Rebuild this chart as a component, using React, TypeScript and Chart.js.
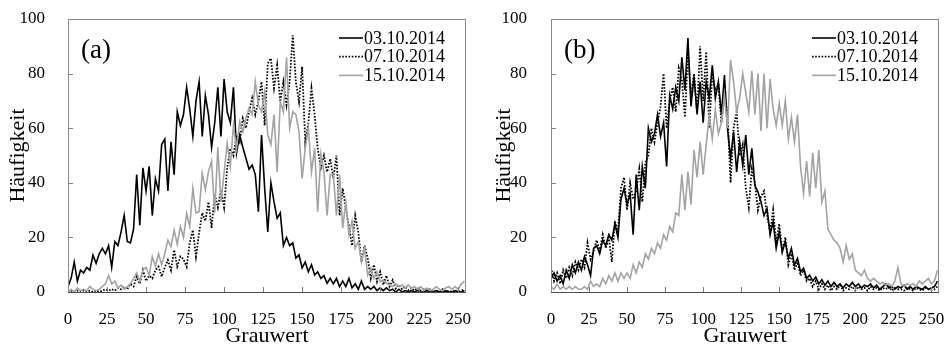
import { useEffect, useRef } from 'react';
import { Chart, registerables } from 'chart.js';

Chart.register(...registerables);

const GRAY_LEVELS = [
  0, 2, 4, 6, 8, 10, 12, 14, 16, 18, 20, 22, 24, 26, 28, 30, 32, 34, 36, 38,
  40, 42, 44, 46, 48, 50, 52, 54, 56, 58, 60, 62, 64, 66, 68, 70, 72, 74, 76, 78,
  80, 82, 84, 86, 88, 90, 92, 94, 96, 98, 100, 102, 104, 106, 108, 110, 112, 114, 116, 118,
  120, 122, 124, 126, 128, 130, 132, 134, 136, 138, 140, 142, 144, 146, 148, 150, 152, 154, 156, 158,
  160, 162, 164, 166, 168, 170, 172, 174, 176, 178, 180, 182, 184, 186, 188, 190, 192, 194, 196, 198,
  200, 202, 204, 206, 208, 210, 212, 214, 216, 218, 220, 222, 224, 226, 228, 230, 232, 234, 236, 238,
  240, 242, 244, 246, 248, 250, 252, 254,
];

const X_TICKS = [0, 25, 50, 75, 100, 125, 150, 175, 200, 225, 250];
const Y_TICKS = [0, 20, 40, 60, 80, 100];
const SERIES_LABELS = ['03.10.2014', '07.10.2014', '15.10.2014'];
const PANEL_LABELS = ['(a)', '(b)'];
const X_TITLE = 'Grauwert';
const Y_TITLE = 'Häufigkeit';

// Panel (a)
const A_0310 = [
  2, 5, 11, 4, 8, 7, 9, 8, 13.5, 10.5,
  14, 16, 14, 17, 9, 18.5, 17, 22, 28, 18.5,
  18, 23, 43, 24.5, 45.5, 37, 46, 28, 41.5, 37,
  54, 56, 37, 55, 43, 66, 61, 65, 75, 67,
  57, 70, 77, 57, 72, 65, 53, 62, 75, 57,
  78, 66, 62, 75, 51, 57.5, 53, 49, 45, 46.5,
  43, 29.4, 57.5, 38, 22, 40, 33, 27, 29, 17,
  20, 17, 18, 12.4, 13.6, 8.8, 11, 7.4, 10, 6.2,
  7.4, 5, 6, 3.2, 5, 3, 5, 2, 4, 2,
  5, 1.5, 3, 1, 4, 1, 2, 1, 2, 0.5,
  1.5, 0.5, 1.5, 0.5, 1, 0, 1, 0, 0.5, 0,
  0.5, 0, 0.5, 0, 0, 0.5, 0, 0, 0.5, 0,
  0, 0.5, 0, 0, 0.5, 0, 0, 0.5,
];

const A_0710 = [
  0, 0.5, 0, 0.5, 0, 0.5, 0, 0.5, 0, 0.5,
  0, 0.5, 1, 0.5, 1, 0.5, 1.5, 1, 2, 1,
  3, 2, 5.6, 3, 8, 4, 6, 5, 8, 9.3,
  5.6, 9, 11.7, 8, 15.4, 9.3, 13, 12, 9.3, 18,
  22.7, 13, 21.6, 29, 26, 33, 23.4, 36, 31, 37.4,
  31, 45.4, 52.6, 50, 57.5, 55, 63.6, 60, 66, 71,
  65, 70, 77, 61, 83.7, 85.6, 74.7, 83, 69.7, 77,
  68.5, 77, 94, 77, 69.7, 82.5, 55, 62, 74.6, 65,
  52.6, 45.4, 50, 44, 48.8, 41.7, 50, 28, 38, 30.8,
  24, 17, 28, 22, 11, 17, 12.4, 5, 10, 3.8,
  7.4, 2.6, 6, 2, 4.4, 1.3, 2.6, 1, 2, 0.7,
  1.5, 0.5, 1.5, 0.5, 1, 0.5, 1, 0, 0.5, 0,
  1, 0, 0.5, 0, 0.5, 0, 0.5, 1,
];

const A_1510 = [
  0, 1, 0, 1.5, 0.5, 1, 0.5, 2, 1, 0.5,
  1, 2, 3, 6, 3, 4, 1.5, 2.5, 1, 2,
  3, 5, 7, 4, 8, 9, 6, 13, 9.5, 14,
  10, 14, 19, 16.6, 22.7, 17.5, 24, 20, 28.8, 24,
  38, 29, 29.4, 43.5, 37.5, 44, 48, 29, 53, 33,
  43.6, 54.5, 46, 61, 52.6, 62.4, 58.7, 63.6, 67.3, 65,
  77, 68.5, 66, 73.4, 57.5, 54, 65, 44, 69.7, 66,
  86, 60, 66, 65, 58.7, 41.6, 52.6, 60, 44, 52.6,
  29.4, 50.6, 44, 28, 43, 43, 28, 43, 23.4, 33,
  21, 26, 16, 18.5, 11, 16, 6.2, 8.7, 5, 7.4,
  3.8, 4.4, 3.2, 2.6, 2, 3, 2, 2.6, 1.5, 2.6,
  1.3, 2, 1, 2, 0.7, 1.5, 0.5, 1, 2, 1,
  0.5, 1.5, 2, 1, 2, 1, 3, 4,
];

// Panel (b)
const B_0310 = [
  5, 7, 4, 6, 3, 8, 5, 10, 7, 11,
  8, 13, 10, 6, 16, 17, 14, 19, 17, 21,
  19, 25, 20, 34, 38, 32, 36, 21, 43, 30,
  46, 38, 60, 55, 58, 65, 57, 62, 46, 72,
  67, 75, 70, 86, 74, 93, 68, 79, 65, 77,
  62, 77, 71, 83, 71, 77, 65, 79.5, 60, 49,
  58.7, 44, 55, 46.5, 57.5, 43, 52.6, 39, 36.7, 33,
  28, 30.6, 21, 25.8, 16, 22, 14.8, 18.4, 12.3, 16,
  9.9, 12.3, 7.4, 8.7, 5, 6.2, 4, 5.5, 3, 4.5,
  2.5, 4, 2, 3.5, 2, 3, 1.5, 3, 2, 3.5,
  2, 3, 1.5, 2.5, 2, 3, 1.5, 2.5, 1, 2,
  3, 1.5, 2, 1, 2, 1.5, 2.5, 1, 2, 1,
  2, 1.5, 1, 2, 1, 1.5, 2, 4,
];

const B_0710 = [
  9, 4, 7, 3, 8, 5, 9, 6, 11, 8,
  12, 9, 18, 12, 15, 19, 15, 21, 16, 20,
  11, 26, 22, 38, 42, 30, 40, 34, 37, 45,
  33, 47, 50, 60, 55, 62, 68, 80, 60, 70,
  75, 66, 82, 78, 64, 88, 72, 80, 66, 90,
  70, 88, 60, 80, 74, 76, 62, 72, 66, 40,
  60, 66, 50, 54, 38, 31, 45, 40, 30, 35,
  37, 28, 22, 30, 18, 25, 15, 20, 10, 14,
  8, 11, 6, 8, 4, 5, 2, 4, 1, 3,
  1, 2.5, 0.5, 2, 1, 2.5, 0.5, 1.5, 1, 2,
  0.5, 2, 1, 1.5, 0.5, 2, 1, 1.5, 0.5, 1.5,
  1, 2, 0.5, 1.5, 1, 1, 0.5, 1.5, 1, 0.5,
  1.5, 1, 0.5, 1.5, 1, 0.5, 1, 2,
];

const B_1510 = [
  2, 1, 3, 1, 2, 1, 2, 1, 2, 1,
  1, 2, 1, 4, 2, 3, 2, 5, 3, 6,
  4, 7, 4, 7, 5, 7, 5, 10, 7, 11,
  9, 14, 12, 16, 14, 18, 16, 21, 19, 24,
  22, 29, 28, 43, 30, 44, 32, 52, 42, 55,
  43, 54, 65, 56, 67, 58, 62, 72, 60, 85,
  77, 66, 71, 80, 73, 66, 81, 65, 80, 59,
  80, 60, 78, 67, 61, 69, 61, 70, 56, 64,
  55, 65, 46, 36, 48, 35, 51, 38, 52, 33,
  37, 23, 21, 19, 18, 16, 11, 17, 12, 14,
  8, 7, 6, 8, 5, 4, 5, 4, 3, 3.5,
  2.5, 3, 2, 4, 9, 3, 2, 3, 2.5, 3,
  2, 4, 3, 4, 5, 3, 4, 8,
];

const FONT = '"Liberation Serif", "Times New Roman", Times, serif';

type PanelSpec = {
  label: string;
  series: number[][];
  yWidth: number;
  yTitlePad: number;
  yTickPad: number;
};

const STYLES = [
  { color: '#000000', width: 1.6, dash: [] as number[], order: 3 },
  { color: '#000000', width: 1.8, dash: [1.6, 1.6], order: 2 },
  { color: '#a3a3a3', width: 1.6, dash: [] as number[], order: 1 },
];

const decorPlugin = {
  id: 'decor',
  afterDraw(chart: any, _args: any, opts: any) {
    const ctx = chart.ctx as CanvasRenderingContext2D;
    const { left, right, top, bottom } = chart.chartArea;
    const xs = chart.scales.x;
    const ys = chart.scales.y;
    ctx.save();
    // inward ticks
    ctx.strokeStyle = '#808080';
    ctx.lineWidth = 1;
    ctx.beginPath();
    X_TICKS.forEach((v) => {
      const px = Math.round(xs.getPixelForValue(v)) + 0.5;
      ctx.moveTo(px, bottom);
      ctx.lineTo(px, bottom - 5);
    });
    Y_TICKS.forEach((v) => {
      const py = Math.round(ys.getPixelForValue(v)) + 0.5;
      ctx.moveTo(left, py);
      ctx.lineTo(left + 5, py);
    });
    ctx.stroke();
    // frame
    ctx.strokeStyle = '#8a8a8a';
    ctx.strokeRect(Math.round(left) + 0.5, Math.round(top) + 0.5, Math.round(right - left) - 1, Math.round(bottom - top));
    ctx.strokeStyle = '#4a4a4a';
    ctx.beginPath();
    ctx.moveTo(left, Math.round(bottom) + 0.5);
    ctx.lineTo(right, Math.round(bottom) + 0.5);
    ctx.stroke();
    // legend
    ctx.font = `18px ${FONT}`;
    ctx.textBaseline = 'middle';
    ctx.textAlign = 'left';
    SERIES_LABELS.forEach((txt, i) => {
      const w = ctx.measureText(txt).width;
      const tx = right - 21 - w;
      const ty = top + 19 + i * 18.7;
      const st = STYLES[i];
      ctx.strokeStyle = st.color;
      ctx.lineWidth = st.width;
      ctx.setLineDash(st.dash);
      ctx.beginPath();
      ctx.moveTo(tx - 25, ty);
      ctx.lineTo(tx - 1, ty);
      ctx.stroke();
      ctx.setLineDash([]);
      ctx.fillStyle = '#000';
      ctx.fillText(txt, tx, ty + 1);
    });
    // panel label
    ctx.font = `27px ${FONT}`;
    ctx.textBaseline = 'alphabetic';
    ctx.fillStyle = '#000';
    ctx.fillText(opts.label, left + 13, top + 39);
    ctx.restore();
  },
};

function Panel({ spec, width, height }: { spec: PanelSpec; width: number; height: number }) {
  const ref = useRef<HTMLCanvasElement | null>(null);
  useEffect(() => {
    if (!ref.current) return;
    const chart = new Chart(ref.current, {
      type: 'line',
      data: {
        labels: GRAY_LEVELS,
        datasets: spec.series.map((d, i) => ({
          label: SERIES_LABELS[i],
          data: d,
          borderColor: STYLES[i].color,
          borderWidth: STYLES[i].width,
          borderDash: STYLES[i].dash,
          pointRadius: 0,
          tension: 0,
          fill: false,
          order: STYLES[i].order,
        })),
      },
      options: {
        responsive: false,
        animation: false,
        devicePixelRatio: 1,
        layout: { padding: { left: 0, top: 19, right: 6, bottom: 0 } },
        plugins: {
          legend: { display: false },
          tooltip: { enabled: false },
          decor: { label: spec.label },
        } as any,
        scales: {
          x: {
            type: 'linear',
            min: 0,
            max: 255,
            grid: { display: false },
            border: { display: false },
            afterBuildTicks: (s: any) => {
              s.ticks = X_TICKS.map((v) => ({ value: v }));
            },
            afterFit: (s: any) => {
              s.height = 55;
              s.paddingLeft = 0;
              s.paddingRight = 0;
            },
            ticks: {
              autoSkip: false,
              maxRotation: 0,
              padding: 9,
              color: '#000',
              font: { family: FONT, size: 17 },
            },
            title: {
              display: true,
              text: X_TITLE,
              color: '#000',
              font: { family: FONT, size: 22, lineHeight: 1 },
              padding: { top: 0, bottom: 0 },
            },
          },
          y: {
            type: 'linear',
            min: 0,
            max: 100,
            grid: { display: false },
            border: { display: false },
            afterBuildTicks: (s: any) => {
              s.ticks = Y_TICKS.map((v) => ({ value: v }));
            },
            afterFit: (s: any) => {
              s.width = spec.yWidth;
              s.paddingTop = 0;
              s.paddingBottom = 0;
            },
            ticks: {
              padding: spec.yTickPad,
              color: '#000',
              font: { family: FONT, size: 17 },
            },
            title: {
              display: true,
              text: Y_TITLE,
              color: '#000',
              font: { family: FONT, size: 22, lineHeight: 1 },
              padding: { top: spec.yTitlePad, bottom: 0 },
            },
          },
        },
      },
      plugins: [decorPlugin],
    } as any);
    return () => chart.destroy();
  }, [spec]);
  return <canvas ref={ref} width={width} height={height} style={{ width, height, display: 'block' }} />;
}

const PANEL_A: PanelSpec = {
  label: PANEL_LABELS[0],
  series: [A_0310, A_0710, A_1510],
  yWidth: 68,
  yTitlePad: 7.6,
  yTickPad: 15,
};

const PANEL_B: PanelSpec = {
  label: PANEL_LABELS[1],
  series: [B_0310, B_0710, B_1510],
  yWidth: 79,
  yTitlePad: 21.3,
  yTickPad: 16,
};

export default function App() {
  return (
    <div style={{ position: 'absolute', left: 0, top: 0, width: 945, height: 347, background: '#fff' }}>
      <div style={{ position: 'absolute', left: 0, top: 0 }}>
        <Panel spec={PANEL_A} width={472} height={347} />
      </div>
      <div style={{ position: 'absolute', left: 472, top: 0 }}>
        <Panel spec={PANEL_B} width={473} height={347} />
      </div>
    </div>
  );
}
